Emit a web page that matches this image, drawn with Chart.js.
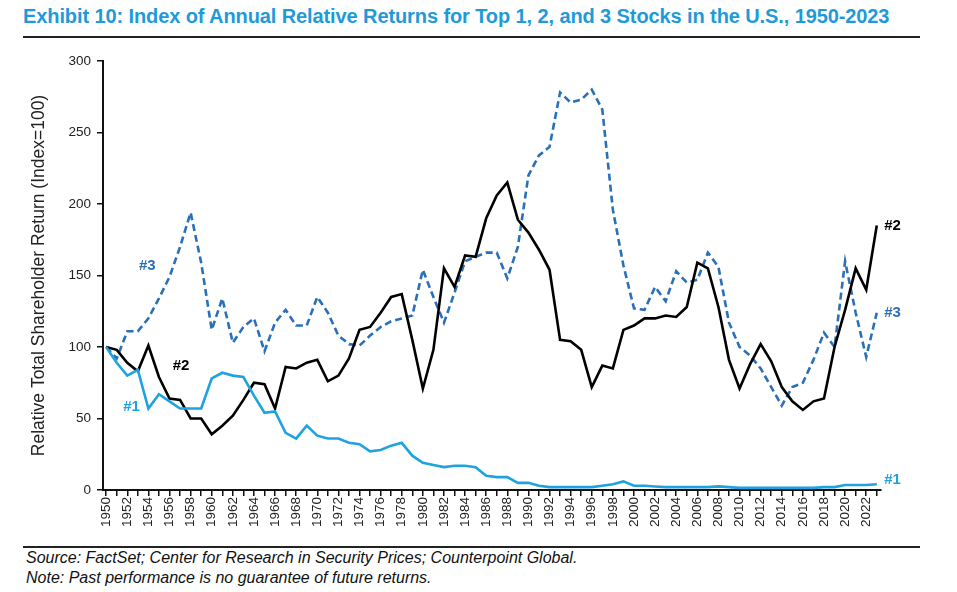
<!DOCTYPE html>
<html>
<head>
<meta charset="utf-8">
<script src="https://cdn.jsdelivr.net/npm/chart.js@4.4.1/dist/chart.umd.min.js"></script>
<style>
  html, body { margin: 0; padding: 0; background: #ffffff; }
  body { width: 957px; height: 592px; position: relative; overflow: hidden; font-family: "Liberation Sans", Arial, sans-serif; }
  #title { position: absolute; left: 23px; top: 5px; font-family: "Liberation Sans", Arial, sans-serif; font-weight: bold; font-size: 20px; color: #1f9ad9; white-space: nowrap; letter-spacing: -0.1px; }
  .rule { position: absolute; left: 23px; width: 897px; height: 2px; background: #222; }
  #chartbox { position: absolute; left: 0; top: 40px; width: 957px; height: 500px; }
  .foot { position: absolute; left: 26px; font-style: italic; font-size: 16px; color: #111; white-space: nowrap; }
</style>
</head>
<body>
<div id="title">Exhibit 10: Index of Annual Relative Returns for Top 1, 2, and 3 Stocks in the U.S., 1950-2023</div>
<div class="rule" style="top:36px"></div>
<div id="chartbox"><canvas id="c" width="957" height="500"></canvas></div>
<div class="rule" style="top:546px"></div>
<div class="foot" style="top:549px">Source: FactSet; Center for Research in Security Prices; Counterpoint Global.</div>
<div class="foot" style="top:569px">Note: Past performance is no guarantee of future returns.</div>
<script>
// ---- data ----
const years = [];
for (let y = 1950; y <= 2023; y++) years.push(y);

const top1 = [100, 89, 80, 84, 57, 67, 62, 57, 57, 57,
              78, 82, 80, 79, 66, 54, 55, 40, 36, 45,
              38, 36, 36, 33, 32, 27, 28, 31, 33, 24,
              19, 17.5, 16, 17, 17, 16, 10, 9, 9, 5,
              5, 3, 2, 2, 2, 2, 2, 3, 4, 6,
              3, 3, 2.5, 2, 2, 2, 2, 2, 2.5, 2,
              1.5, 1.5, 1.5, 1.5, 1.5, 1.5, 1.5, 1.5, 2, 2,
              3.5, 3.5, 3.5, 4];

const top2 = [100, 98, 89, 83, 101, 79, 64, 63, 50, 50,
              39, 45, 52, 63, 75, 74, 57, 86, 85, 89,
              91, 76, 80, 92, 112, 114, 124, 135, 137, 105,
              71, 98, 155, 142, 164, 163, 190, 206, 215, 189,
              180, 168, 154, 105, 104, 98, 72, 87, 85, 112,
              115, 120, 120, 122, 121, 128, 159, 155, 128, 91,
              71, 88, 102, 90, 72, 62, 56, 62, 64, 100,
              126, 155, 140, 185];

const top3 = [100, 92, 111, 111, 120, 134, 149, 170, 194, 159,
              112, 134, 103, 114, 120, 97, 117, 126, 115, 115,
              135, 124, 108, 102, 101, 108, 114, 118, 120, 122,
              154, 135, 117, 138, 160, 163, 166, 166, 148, 170,
              220, 234, 240, 278, 271, 273, 280, 266, 196, 157,
              127, 126, 142, 132, 153, 145, 147, 166, 156, 117,
              100, 94, 85, 72, 59, 72, 75, 91, 110, 100,
              160, 124, 93, 124];

const yTicks = [0, 50, 100, 150, 200, 250, 300];
const seriesNames = ['#1', '#2', '#3'];

// ---- styles ----
const C1 = '#1fa2e0', C2 = '#000000', C3 = '#2a70b8';
const FONT = '"Liberation Sans", Arial, sans-serif';

const pts = arr => years.map((y, i) => ({ x: y, y: arr[i] }));

// label anchors in data space
const leftLabels = [
  { text: seriesNames[2], x: 1953.9, y: 157, color: C3 },
  { text: seriesNames[1], x: 1957.1, y: 87, color: C2 },
  { text: seriesNames[0], x: 1952.4, y: 58, color: C1 }
];

const labelPlugin = {
  id: 'seriesLabels',
  afterDatasetsDraw(chart) {
    const { ctx, scales: { x, y } } = chart;
    ctx.save();
    ctx.font = 'bold 15px ' + FONT;
    ctx.textBaseline = 'middle';
    ctx.textAlign = 'center';
    leftLabels.forEach(l => {
      ctx.fillStyle = l.color;
      ctx.fillText(l.text, x.getPixelForValue(l.x), y.getPixelForValue(l.y));
    });
    ctx.textAlign = 'left';
    const last = years[years.length - 1];
    const ends = [
      { t: seriesNames[1], v: top2[top2.length - 1], c: C2, dv: 0 },
      { t: seriesNames[2], v: top3[top3.length - 1], c: C3, dv: 0 },
      { t: seriesNames[0], v: top1[top1.length - 1], c: C1, dv: 3 }
    ];
    ends.forEach(e => {
      ctx.fillStyle = e.c;
      ctx.fillText(e.t, x.getPixelForValue(last + 0.7), y.getPixelForValue(e.v + e.dv));
    });
    ctx.restore();
  }
};

new Chart(document.getElementById('c'), {
  type: 'line',
  data: {
    datasets: [
      { label: seriesNames[0], data: pts(top1), borderColor: C1, borderWidth: 2.6, pointRadius: 0, tension: 0 },
      { label: seriesNames[1], data: pts(top2), borderColor: C2, borderWidth: 2.6, pointRadius: 0, tension: 0 },
      { label: seriesNames[2], data: pts(top3), borderColor: C3, borderWidth: 2.6, borderDash: [7, 4], pointRadius: 0, tension: 0 }
    ]
  },
  options: {
    responsive: false,
    animation: false,
    events: [],
    layout: { padding: { left: 29, right: 76, top: 21, bottom: 0 } },
    plugins: { legend: { display: false }, tooltip: { enabled: false } },
    scales: {
      x: {
        type: 'linear',
        min: 1949.7,
        max: 2023.4,
        afterFit: s => { s.height = 50; },
        border: { display: true, color: '#111', width: 2 },
        grid: { drawOnChartArea: false, drawTicks: true, tickLength: 6, color: '#111', lineWidth: 1.5 },
        ticks: {
          stepSize: 1,
          autoSkip: false,
          includeBounds: false,
          maxRotation: 90,
          minRotation: 90,
          padding: 1,
          color: '#222',
          font: { family: FONT, size: 13.5 },
          callback: v => (Number.isInteger(v) && v % 2 === 0) ? String(v) : ''
        }
      },
      y: {
        min: 0,
        max: 300,
        afterFit: s => { s.width = 74; },
        afterBuildTicks: s => { s.ticks = yTicks.map(v => ({ value: v })); },
        border: { display: true, color: '#111', width: 2 },
        grid: { drawOnChartArea: false, drawTicks: true, tickLength: 6, color: '#111', lineWidth: 1.5 },
        ticks: { padding: 6, color: '#222', font: { family: FONT, size: 13.5 } },
        title: {
          display: true,
          text: 'Relative Total Shareholder Return (Index=100)',
          color: '#222',
          font: { family: FONT, size: 17.5 },
          padding: { top: 0, bottom: 2 }
        }
      }
    }
  },
  plugins: [labelPlugin]
});
</script>
</body>
</html>
